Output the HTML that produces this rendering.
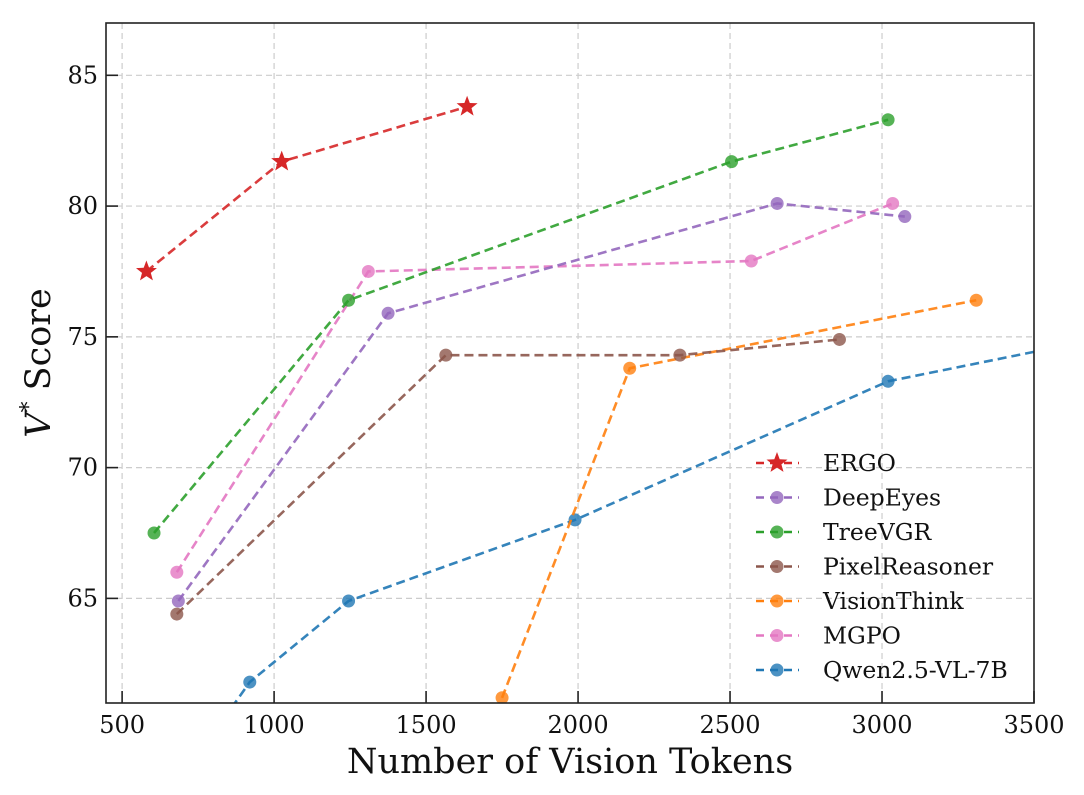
<!DOCTYPE html>
<html><head><meta charset="utf-8"><style>
body{margin:0;background:#fff}
svg text{font-family:"DejaVu Serif","Liberation Serif",serif}
</style></head><body>
<svg id="chart" width="1084" height="790" xmlns="http://www.w3.org/2000/svg">
<defs><clipPath id="plotclip"><rect x="106" y="23" width="928" height="680"/></clipPath></defs>
<g id="grid"></g>
<g id="series" clip-path="url(#plotclip)"></g>
<rect x="106" y="23" width="928" height="680" fill="none" stroke="#222" stroke-width="1.6"/>
<g id="ticks"></g>
<text x="570" y="773" font-size="35" text-anchor="middle" fill="#111">Number of Vision Tokens</text>
<text transform="translate(50,363) rotate(-90)" font-size="35" text-anchor="middle" fill="#111"><tspan font-style="italic">V</tspan><tspan font-size="22" dy="-14">*</tspan><tspan dy="14"> Score</tspan></text>
<g id="legend"></g>
</svg>
<script>
const xTicks=[500,1000,1500,2000,2500,3000,3500];
const yTicks=[65,70,75,80,85];
const seriesNames=["ERGO","DeepEyes","TreeVGR","PixelReasoner","VisionThink","MGPO","Qwen2.5-VL-7B"];
const seriesColors=["#d62728","#9467bd","#2ca02c","#8c564b","#ff7f0e","#e377c2","#1f77b4"];
const ergoX=[580,1025,1635], ergoY=[77.5,81.7,83.8];
const deepX=[685,1375,2655,3075], deepY=[64.9,75.9,80.1,79.6];
const treeX=[605,1245,2505,3020], treeY=[67.5,76.4,81.7,83.3];
const pixX=[680,1565,2335,2860], pixY=[64.4,74.3,74.3,74.9];
const visX=[1650,1750,2170,3310], visY=[58.2,61.2,73.8,76.4];
const mgpoX=[680,1310,2570,3035], mgpoY=[66.0,77.5,77.9,80.1];
const qwenX=[700,920,1245,1990,3020,4000], qwenY=[58.2,61.8,64.9,68.0,73.3,75.6];
const allX=[ergoX,deepX,treeX,pixX,visX,mgpoX,qwenX];
const allY=[ergoY,deepY,treeY,pixY,visY,mgpoY,qwenY];
const X0=447,X1=3500,Y0=61,Y1=87,L=106,R=1034,T=23,B=703;
const sx=v=>L+(v-X0)/(X1-X0)*(R-L);
const sy=v=>B-(v-Y0)/(Y1-Y0)*(B-T);
const NS="http://www.w3.org/2000/svg";
function mk(tag,attrs,parent){const e=document.createElementNS(NS,tag);for(const k in attrs)e.setAttribute(k,attrs[k]);parent.appendChild(e);return e;}
const grid=document.getElementById('grid'),ticks=document.getElementById('ticks'),ser=document.getElementById('series'),leg=document.getElementById('legend');
xTicks.forEach(v=>{const x=sx(v);
 const g=mk('line',{x1:x,x2:x,y1:T,y2:B,stroke:'#ccc','stroke-width':1.2,'stroke-dasharray':'6,4'},grid);
 
 const t=mk('line',{x1:x,x2:x,y1:B,y2:B-12,stroke:'#222','stroke-width':1.6},ticks);
 
 const l=mk('text',{x:x,y:B+30,'font-size':24,'text-anchor':'middle',fill:'#111'},ticks);l.textContent=v;
 });
yTicks.forEach(v=>{const y=sy(v);
 const g=mk('line',{x1:L,x2:R,y1:y,y2:y,stroke:'#ccc','stroke-width':1.2,'stroke-dasharray':'6,4'},grid);
 
 const t=mk('line',{x1:L,x2:L+12,y1:y,y2:y,stroke:'#222','stroke-width':1.6},ticks);
 
 const l=mk('text',{x:L-8,y:y+8,'font-size':24,'text-anchor':'end',fill:'#111'},ticks);l.textContent=v;
 });
function star(cx,cy,r){let p=[];for(let i=0;i<10;i++){const a=-Math.PI/2+i*Math.PI/5,rr=i%2?r*0.42:r;p.push((cx+rr*Math.cos(a)).toFixed(1)+','+(cy+rr*Math.sin(a)).toFixed(1));}return p.join(' ');}
function marker(i,cx,cy,parent){
 if(i===0){return mk('polygon',{points:star(cx,cy,11),fill:seriesColors[i]},parent);}
 return mk('circle',{cx:cx,cy:cy,r:6.5,fill:seriesColors[i],'fill-opacity':0.8},parent);}
for(let i=6;i>=0;i--){
 const xs=allX[i],ys=allY[i];
 const pl=mk('polyline',{points:xs.map((x,j)=>sx(x)+','+sy(ys[j])).join(' '),fill:'none',stroke:seriesColors[i],'stroke-width':2.6,'stroke-dasharray':'9,5','stroke-opacity':0.9},ser);
 
 
 xs.forEach((x,j)=>{const m=marker(i,sx(x),sy(ys[j]),ser);
  
  });
}
seriesNames.forEach((n,i)=>{const y=463+i*34.5;
 const ln=mk('line',{x1:755,x2:799,y1:y,y2:y,stroke:seriesColors[i],'stroke-width':2.6,'stroke-dasharray':'8,6','stroke-dashoffset':'-1'},leg);
 
 const m=marker(i,777,y,leg);
 
 const t=mk('text',{x:823,y:y+8,'font-size':23.5,fill:'#111'},leg);t.textContent=n;
 });
</script>
</body></html>
